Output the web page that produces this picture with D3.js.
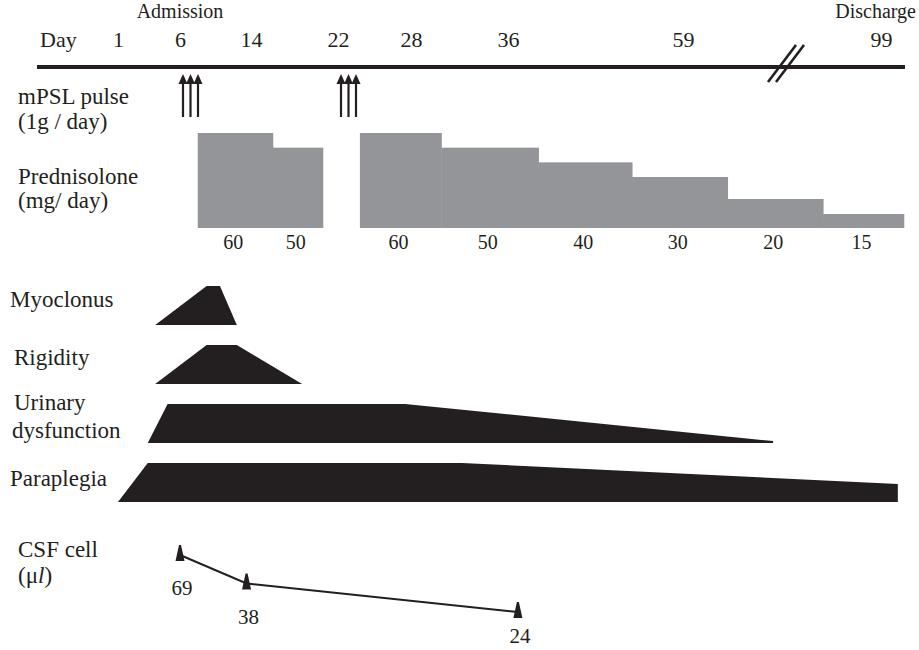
<!DOCTYPE html>
<html>
<head>
<meta charset="utf-8">
<script src="https://cdn.jsdelivr.net/npm/d3@7"></script>
<style>
  html, body { margin: 0; padding: 0; background: #fff; }
  svg { display: block; }
  svg text { font-family: 'Liberation Serif', 'Tinos', 'DejaVu Serif', serif; fill: #231f20; }
</style>
</head>
<body>
<svg id="chart" width="919" height="650"></svg>
<script>
// ---------------- DATA ----------------
const tickDays = [1, 6, 14, 22, 28, 36, 59, 99];
const breakDay = 79;

const pulseStartDays = [6, 22];
const pulseCount = 3;

const predStart = [8, 16, 23.8, 30.5, 40, 52.3, 68, 87.3];
const predEnd   = [16, 20.6, 30.5, 40, 52.3, 68, 87.3, 103.6];
const predDose  = [60, 50, 60, 50, 40, 30, 20, 15];

const symptomNames = ["Myoclonus", "Rigidity", "Urinary|dysfunction", "Paraplegia"];
const myoclonusDays   = [4, 9, 10.5, 12.4];
const myoclonusLevel  = [0, 1, 1, 0];
const rigidityDays    = [4, 9, 12.4, 18.7];
const rigidityLevel   = [0, 1, 1, 0];
const urinaryDays     = [3.4, 5, 27.5, 77.2, 77.2];
const urinaryLevel    = [0, 1, 1, 0.05, 0];
const paraplegiaDays  = [1, 3.4, 32.2, 102.4, 102.4];
const paraplegiaLevel = [0, 1, 1, 0.46, 0];

const csfDays   = [6, 13.5, 37.3];
const csfValues = [69, 38, 24];

// ---------------- LAYOUT ----------------
const svg = d3.select("#chart");
const FONT = "'Liberation Serif', 'Tinos', 'DejaVu Serif', serif";

// schematic (non-uniform) timeline scale
const x = d3.scaleLinear()
  .domain(tickDays)
  .range([118, 180, 251, 338, 411, 508, 683, 881]);

const axisY = 67;
const ink = "#231f20";

// Axis line
svg.append("line")
  .attr("x1", 37).attr("x2", 905)
  .attr("y1", axisY).attr("y2", axisY)
  .attr("stroke", ink).attr("stroke-width", 4);

// Tick labels via d3 axis
const axisG = svg.append("g")
  .attr("transform", `translate(0,${axisY})`)
  .call(d3.axisTop(x).tickValues(tickDays).tickSize(0).tickPadding(20).tickFormat(d3.format("d")));
axisG.select(".domain").remove();
axisG.attr("font-family", null).attr("font-size", null);
axisG.selectAll("text")
  .style("font-family", FONT)
  .style("font-size", "22px")
  .attr("fill", ink);

function txt(t, xx, yy, size, anchor) {
  return svg.append("text").attr("x", xx).attr("y", yy)
    .attr("text-anchor", anchor || "start")
    .style("font-family", FONT).style("font-size", size + "px")
    .text(t);
}
txt("Day", 40, axisY - 20, 22);
txt("Admission", x(6), 18, 20, "middle");
txt("Discharge", 916, 18, 20, "end");

// Break marks
const bx = x(breakDay);
[-14, -6].forEach(off => {
  svg.append("line")
    .attr("x1", bx + off).attr("y1", axisY + 15)
    .attr("x2", bx + off + 28).attr("y2", axisY - 22)
    .attr("stroke", ink).attr("stroke-width", 2.6);
});

// Left labels
const leftLabels = [
  { t: "mPSL pulse", x: 18, y: 104 },
  { t: "(1g / day)", x: 18, y: 129 },
  { t: "Prednisolone", x: 18, y: 184 },
  { t: "(mg/ day)", x: 18, y: 208 },
  { t: "Myoclonus", x: 10, y: 307 },
  { t: "Rigidity", x: 14, y: 365 },
  { t: "Urinary", x: 14, y: 410 },
  { t: "dysfunction", x: 12, y: 438 },
  { t: "Paraplegia", x: 10, y: 486 },
  { t: "CSF cell", x: 18, y: 557 }
];
leftLabels.forEach(d => txt(d.t, d.x, d.y, 23));
const mu = svg.append("text").attr("x", 18).attr("y", 583)
  .style("font-family", FONT).style("font-size", "23px");
mu.append("tspan").text("(\u03BC");
mu.append("tspan").attr("font-style", "italic").text("l");
mu.append("tspan").text(")");

// mPSL pulse arrows
const arrowTop = 74, arrowBottom = 117;
pulseStartDays.forEach(d0 => {
  d3.range(pulseCount).forEach(i => {
    const ax = x(d0) + 3 + i * 7.5;
    svg.append("line")
      .attr("x1", ax).attr("x2", ax)
      .attr("y1", arrowBottom).attr("y2", arrowTop + 6)
      .attr("stroke", ink).attr("stroke-width", 2.2);
    svg.append("path")
      .attr("d", `M${ax - 4.5},${arrowTop + 10}L${ax},${arrowTop}L${ax + 4.5},${arrowTop + 10}Z`)
      .attr("fill", ink);
  });
});

// Prednisolone bars
const predBottom = 228;
const hDose = d3.scaleLinear().domain([15, 20, 30, 60]).range([14, 29, 51, 95]);
const predData = predDose.map((v, i) => ({ s: predStart[i], e: predEnd[i], v }));
svg.selectAll("rect.pred").data(predData).enter().append("rect")
  .attr("class", "pred")
  .attr("x", d => x(d.s))
  .attr("width", d => x(d.e) - x(d.s) + 0.5)
  .attr("y", d => predBottom - hDose(d.v))
  .attr("height", d => hDose(d.v))
  .attr("fill", "#939598");
predData.forEach(d => txt(d.v, (x(d.s) + x(d.e)) / 2 - 2, predBottom + 21, 20, "middle"));

// Symptom shapes
const rowBottoms = [325, 384, 443, 502];
const rowH = 39;
const symptomSeries = [
  [myoclonusDays, myoclonusLevel],
  [rigidityDays, rigidityLevel],
  [urinaryDays, urinaryLevel],
  [paraplegiaDays, paraplegiaLevel]
];
symptomSeries.forEach((s, k) => {
  const pts = s[0].map((d, i) => ({ d, l: s[1][i] }));
  const lvl = d3.scaleLinear().domain([0, 1]).range([rowBottoms[k], rowBottoms[k] - rowH]);
  const area = d3.area()
    .x(p => x(p.d))
    .y0(rowBottoms[k])
    .y1(p => lvl(p.l));
  svg.append("path").datum(pts).attr("d", area).attr("fill", ink);
});

// CSF cells
const yIdx = d3.scaleLinear().domain([0, csfValues.length - 1]).range([553, 610]);
const csfPts = csfValues.map((v, i) => ({ d: csfDays[i], v, i }));
svg.append("path").datum(csfPts)
  .attr("d", d3.line().x(p => x(p.d)).y(p => yIdx(p.i) + 2))
  .attr("fill", "none").attr("stroke", ink).attr("stroke-width", 2);
svg.selectAll("path.tri").data(csfPts).enter().append("path")
  .attr("class", "tri")
  .attr("d", p => {
    const cx = x(p.d), cy = yIdx(p.i);
    return `M${cx - 4.5},${cy + 8}L${cx - 1},${cy - 8}L${cx + 1},${cy - 8}L${cx + 4.5},${cy + 8}Z`;
  })
  .attr("fill", ink);
csfPts.forEach(p => txt(p.v, x(p.d) + 2, Math.min(yIdx(p.i) + 42, 643), 21, "middle"));
</script>
</body>
</html>
